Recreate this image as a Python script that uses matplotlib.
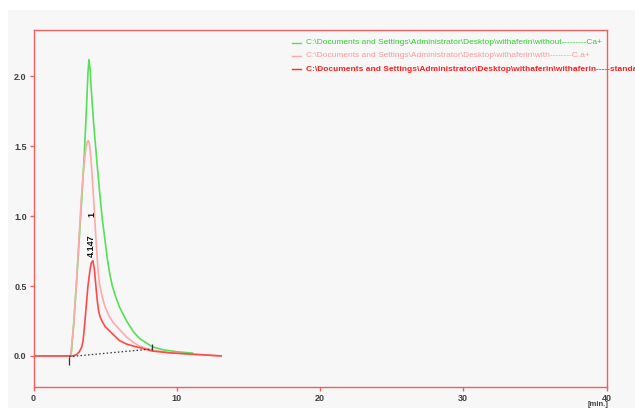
import matplotlib
matplotlib.use("Agg")
import matplotlib.pyplot as plt
from matplotlib.patches import Rectangle

# ---- data ----
green_t = [0.0, 2.5, 2.63, 2.8, 3.0, 3.2, 3.4, 3.55, 3.7, 3.8, 3.87, 3.95, 4.05, 4.2, 4.4, 4.6, 4.8,
           5.0, 5.15, 5.3, 5.5, 5.75, 6.0, 6.5, 7.0, 7.4, 8.3, 9.0, 10.0, 11.1]
green_v = [0.0, 0.0, 0.01, 0.22, 0.52, 0.85, 1.18, 1.45, 1.78, 2.02, 2.12, 2.05, 1.88, 1.66, 1.42, 1.19, 0.98,
           0.82, 0.7, 0.6, 0.5, 0.42, 0.35, 0.25, 0.17, 0.125, 0.065, 0.045, 0.03, 0.02]

pink_t = [0.0, 2.5, 2.6, 2.8, 3.0, 3.2, 3.33, 3.5, 3.65, 3.75, 3.82, 3.9, 4.0, 4.1, 4.2, 4.35, 4.5, 4.6,
          4.8, 5.0, 5.3, 5.6, 6.0, 6.5, 7.0, 7.4, 8.3, 9.5, 11.0, 13.1]
pink_v = [0.0, 0.0, 0.01, 0.22, 0.52, 0.88, 1.12, 1.34, 1.48, 1.53, 1.54, 1.52, 1.42, 1.28, 1.12, 0.85, 0.62, 0.52,
          0.42, 0.35, 0.28, 0.235, 0.19, 0.135, 0.095, 0.07, 0.04, 0.025, 0.012, 0.0]

red_t = [0.0, 2.75, 3.0, 3.2, 3.35, 3.45, 3.55, 3.65, 3.8, 3.95, 4.05, 4.15, 4.25, 4.32, 4.4, 4.47, 4.55,
         4.65, 4.8, 5.0, 5.3, 5.6, 6.0, 6.5, 7.0, 7.4, 8.3, 9.5, 10.7, 12.0, 13.1]
red_v = [0.0, 0.0, 0.01, 0.03, 0.06, 0.1, 0.2, 0.32, 0.5, 0.62, 0.67, 0.68, 0.62, 0.54, 0.45, 0.38, 0.32,
         0.28, 0.245, 0.21, 0.18, 0.15, 0.11, 0.085, 0.07, 0.06, 0.035, 0.022, 0.015, 0.007, 0.0]

base_t = [2.5, 8.3]
base_v = [-0.005, 0.05]
marker_t = [2.46, 8.28]
marker_lo = [-0.065, 0.04]
marker_hi = [-0.005, 0.086]

peak_rt = "4.147"
peak_id = "1"
peak_t = 4.15

legend_labels = [
    r"C:\Documents and Settings\Administrator\Desktop\withaferin\without---------Ca+",
    r"C:\Documents and Settings\Administrator\Desktop\withaferin\with--------C.a+",
    r"C:\Documents and Settings\Administrator\Desktop\withaferin\withaferin-----standard",
]

x_ticks = [0, 10, 20, 30, 40]
y_ticks = [0.0, 0.5, 1.0, 1.5, 2.0]

# ---- styling ----
c_green = "#55e055"
c_pink = "#ffaaaa"
c_red = "#ff4a4a"
c_spine = "#f06060"
bg = "#f7f7f7"
plt.rcParams["font.family"] = ["Liberation Sans", "DejaVu Sans"]

fig = plt.figure(figsize=(6.35, 4.08), dpi=100, facecolor="white")
fig.patches.append(Rectangle((8 / 635, 0), 1, (408 - 10) / 408, transform=fig.transFigure,
                             facecolor=bg, edgecolor="none", zorder=-10))

ax = fig.add_axes([33.5 / 635, 21.3 / 408, 573 / 635, (386.7 - 29.5) / 408])
ax.set_facecolor(bg)
ax.set_xlim(0, 40)
ax.set_ylim(-0.22, 2.335)

ax.plot(green_t, green_v, color=c_green, lw=1.2)
ax.plot(pink_t, pink_v, color=c_pink, lw=1.2)
ax.plot(red_t, red_v, color=c_red, lw=1.2)
ax.plot(base_t, base_v, color="#333333", lw=0.9, ls=(0, (1.2, 1.8)))
ax.vlines(marker_t, marker_lo, marker_hi, color="#333333", lw=0.9)

ax.text(peak_t - 0.1, 0.79, peak_rt, rotation=90, ha="center", va="center",
        fontsize=6.5, fontweight="bold", color="#111111")
ax.text(peak_t - 0.1, 1.01, peak_id, rotation=90, ha="center", va="center",
        fontsize=6.5, fontweight="bold", color="#111111")

for s in ax.spines.values():
    s.set_color(c_spine)
    s.set_linewidth(1.0)
ax.set_xticks(x_ticks)
ax.set_xticklabels([str(v) for v in x_ticks])
ax.set_yticks(y_ticks)
ax.set_yticklabels([f"{v:.1f}" for v in y_ticks])
ax.tick_params(axis="both", length=3, width=1.0, color=c_spine, labelsize=6.5,
               labelcolor="#404040", pad=2)
for lab in ax.get_xticklabels() + ax.get_yticklabels():
    lab.set_fontweight("bold")

fig.text(598 / 635, 1 - 405 / 408, "[min.]", ha="center", va="center", fontsize=5.5,
         color="#404040", fontweight="bold")

# legend drawn manually
leg_colors = [c_green, c_pink, "#ff2a2a"]
leg_text_colors = ["#2fd02f", "#ff9a9a", "#ff2020"]
leg_weights = ["normal", "normal", "bold"]
leg_y = [42.7, 55.5, 69.3]
for lab, lc, tc, w, yy in zip(legend_labels, leg_colors, leg_text_colors, leg_weights, leg_y):
    yf = 1 - yy / 408
    fig.add_artist(plt.Line2D([291.7 / 635, 301 / 635], [yf, yf], color=lc, lw=1.0,
                              transform=fig.transFigure))
    fig.text(306.5 / 635, yf, lab, ha="left", va="center", fontsize=6.0, color=tc, fontweight=w)

fig.savefig("out.png", dpi=100, facecolor=fig.get_facecolor())
